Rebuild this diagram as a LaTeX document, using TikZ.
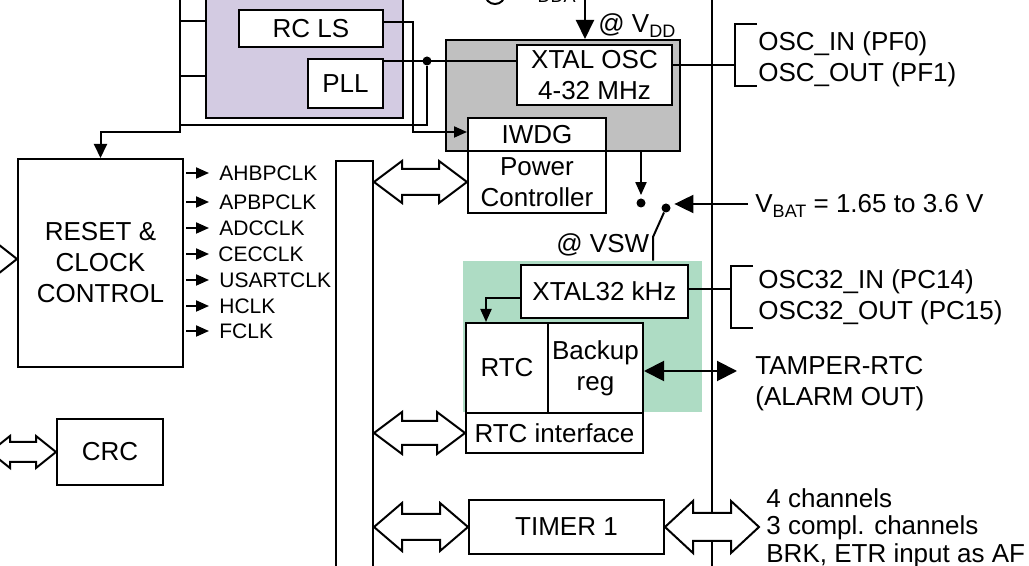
\documentclass[tikz,border=0pt]{standalone}
\usepackage{fontspec}
\setmainfont{Liberation Sans}
\usetikzlibrary{calc,arrows.meta}
\newcommand{\lsub}[1]{\raisebox{-0.35ex}{\fontsize{9}{9}\selectfont #1}}
\newcommand{\hdarr}[5]{%
  \draw[line width=1pt, fill=white, line join=miter] let \p1=(#1), \p2=(#2) in
   (\x1,\y1) -- (\x1+#3,\y1+#4) -- (\x1+#3,\y1+#5) -- (\x2-#3,\y1+#5) -- (\x2-#3,\y1+#4) -- (\x2,\y1)
   -- (\x2-#3,\y1-#4) -- (\x2-#3,\y1-#5) -- (\x1+#3,\y1-#5) -- (\x1+#3,\y1-#4) -- cycle;}
\definecolor{purC}{RGB}{211,203,226}
\definecolor{grayC}{RGB}{192,192,192}
\definecolor{grnC}{RGB}{174,220,196}
\tikzset{
 box/.style={draw, line width=1pt, fill=white, inner sep=0pt, align=center, font=\fontsize{13}{15.5}\selectfont},
 lbl/.style={inner sep=0pt, align=left, font=\fontsize{13}{15.5}\selectfont},
 clk/.style={inner sep=0pt, anchor=west, font=\fontsize{10.5}{12}\selectfont},
 wire/.style={line width=1pt},
 arr/.style={wire, -{Triangle[length=6.5pt,width=5.5pt]}},
 bigarr/.style={wire, -{Triangle[length=9.5pt,width=9pt]}},
 dotn/.style={circle, fill, inner sep=0pt, minimum size=4.5pt},
}
\begin{document}
\begin{tikzpicture}[x=0.5pt,y=-0.5pt]
\useasboundingbox (0,0) rectangle (1029,566);
\fill[white] (0,0) rectangle (1029,566);
\clip (0,0) rectangle (1029,566);

% background areas
\node[box, fill=purC, minimum width=98.5pt, minimum height=74pt] (pur) at (304.5,44) {};
\node[box, fill=grayC, minimum width=117pt, minimum height=55.5pt] (gray) at (563,95.5) {};
\node[fill=grnC, inner sep=0pt, minimum width=119.5pt, minimum height=75.5pt] (grn) at (582.5,336.5) {};

% right vertical line
\coordinate (vt) at (712,-5);
\coordinate (vb2) at (712,600);
\draw[wire] (vt) -- (vb2);

% boxes
\node[box, minimum width=72pt, minimum height=18.5pt] (rcls) at (311,28.5) {RC LS};
\node[box, minimum width=37.5pt, minimum height=24.5pt] (pll) at (345.5,83.5) {PLL};
\node[box, minimum width=77.5pt, minimum height=30pt] (xosc) at (594.5,75) {XTAL OSC\\4-32 MHz};
\node[box, minimum width=69pt, minimum height=16.5pt] (iwdg) at (537,134.5) {IWDG};
\node[box, minimum width=69pt, minimum height=31pt] (pwr) at (537,182) {Power\\Controller};
\node[box, minimum width=82.5pt, minimum height=104pt] (rcc) at (100.5,263) {RESET \&\\CLOCK\\CONTROL};
\node[box, minimum width=53pt, minimum height=33pt] (crc) at (110,452) {CRC};
\node[box, minimum width=18.5pt, minimum height=219.5pt] (bus) at (354.5,380.5) {};
\node[box, minimum width=83.5pt, minimum height=26.5pt] (x32) at (604.5,291.5) {XTAL32 kHz};
\node[box, minimum width=41pt, minimum height=45pt] (rtc) at (507,368) {RTC};
\node[box, minimum width=47.5pt, minimum height=45pt] (bkp) at (595.5,368) {Backup\\reg};
\node[box, minimum width=88.5pt, minimum height=20pt] (rtcif) at (554.5,433) {RTC interface};
\node[box, minimum width=97.5pt, minimum height=27pt] (tim) at (566.5,527) {TIMER 1};

% top clock wiring
\coordinate (k1) at (413,22);
\coordinate (k2) at (413,132);
\draw[arr] (rcls.east |- k1) -- (k1) -- (k2) -- (iwdg.west |- k2);
\node[dotn] (jn) at (427,61) {};
\draw[wire] (pll.east |- jn) -- (xosc.west |- jn);
\coordinate (j2) at (180,125);
\draw[wire] (jn) |- (j2);
\coordinate (lt) at (180,-5);
\coordinate (lb) at (180,132);
\draw[wire, -{Triangle[length=7pt,width=6.5pt]}] (lt) -- (lb) -| (rcc.north);
\coordinate (s1) at (180,21);
\coordinate (s2) at (180,76);
\draw[wire] (s1) -- (s1 -| pur.west);
\draw[wire] (s2) -- (s2 -| pur.west);

% VDDA (cut at top)
\draw[wire] (495,-6) circle (5pt);
\node[lbl, anchor=base west] (vdda) at (520,-2) {V\lsub{DDA}};
% VDD
\coordinate (vdd) at (585,-5);
\draw[bigarr] (vdd) -- (vdd |- gray.north);
\node[lbl, anchor=base west] (vddl) at (598,33) {@ V\lsub{DD}};

% OSC bracket
\coordinate (b1) at (735,65);
\draw[wire] (xosc.east |- b1) -- (b1);
\draw[wire] (757,24) -- (735,24) -- (735,86) -- (757,86);
\node[lbl, anchor=west] (osc) at (758,59.5) {OSC\_IN (PF0)\\OSC\_OUT (PF1)};

% switch
\node[dotn] (d1) at (641,203) {};
\node[dotn] (d2) at (666,208) {};
\draw[arr, shorten >=1.5pt] (gray.south -| d1) -- (d1.north);
\coordinate (sw) at (653,237);
\draw[wire] (d2) -- (sw) -- (sw |- grn.north);
\coordinate (vb) at (748,204);
\draw[bigarr, shorten >=1.75pt] (vb) -- (d2.east |- vb);
\node[lbl, anchor=base west] (vbat) at (755,213) {V\lsub{BAT} = 1.65 to 3.6 V};
\node[lbl, anchor=base west] (vsw) at (556,253) {@ VSW};

% XTAL32
\coordinate (b2) at (731,289);
\draw[wire] (x32.east |- b2) -- (b2);
\draw[wire] (753,266) -- (731,266) -- (731,328) -- (753,328);
\node[lbl, anchor=west] (osc32) at (758,297) {OSC32\_IN (PC14)\\OSC32\_OUT (PC15)};
\coordinate (r1) at (486,298);
\draw[arr] (x32.west |- r1) -- (r1) -- (r1 |- rtc.north);

% tamper
\coordinate (tp) at (737,371);
\draw[wire, {Triangle[length=10pt,width=10pt]}-{Triangle[length=10pt,width=10pt]}] (bkp.east |- tp) -- (tp);
\node[lbl, anchor=west] (tamper) at (755,384) {TAMPER-RTC\\(ALARM OUT)};

% clock outputs
\foreach \n/\t/\x/\y in {c1/AHBPCLK/219/173, c2/APBPCLK/219/202, c3/ADCCLK/219/228, c4/CECCLK/218/254, c5/USARTCLK/219/280, c6/HCLK/219/306, c7/FCLK/219/331}{
  \node[clk] (\n) at (\x,\y) {\t};
  \draw[arr, shorten <=1pt, shorten >=5pt] (rcc.east |- \n.west) -- (219,\y);
}

% hollow double arrows
\hdarr{bus.east |- pwr.west}{pwr.west}{14pt}{10.5pt}{6.5pt}
\hdarr{bus.east |- rtcif.west}{rtcif.west}{14pt}{10.5pt}{6pt}
\hdarr{bus.east |- tim.west}{tim.west}{14pt}{12pt}{6.5pt}
\coordinate (tr) at (759,527);
\hdarr{tim.east}{tr}{14pt}{13pt}{7pt}
\node[lbl, anchor=west, font=\fontsize{13}{13.8}\selectfont] (chan) at (766,528) {4 channels\\3 compl. channels\\BRK, ETR input as AF};
\coordinate (la) at (-100,259);
\hdarr{la}{rcc.west |- la}{14pt}{11pt}{7pt}
\coordinate (lc) at (-10,452);
\hdarr{lc}{crc.west}{10pt}{8pt}{5pt}
\end{tikzpicture}
\end{document}
